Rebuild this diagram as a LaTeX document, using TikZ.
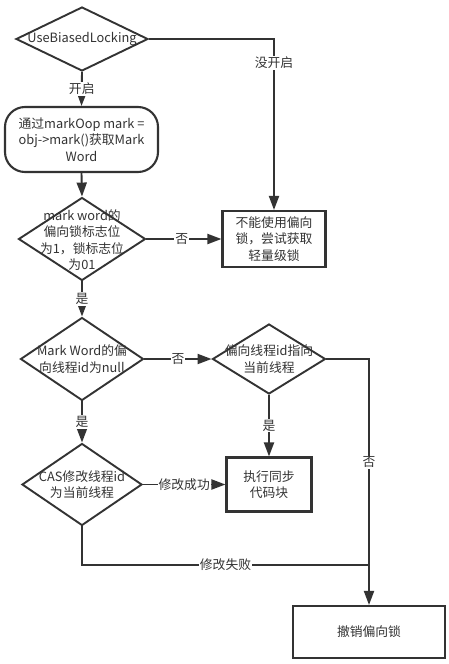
\documentclass[tikz,border=0pt]{standalone}
\usepackage{fontspec}
\setmainfont{Noto Sans CJK SC}
\usetikzlibrary{shapes.geometric,arrows.meta}
\definecolor{lc}{HTML}{333333}
\begin{document}
\begin{tikzpicture}[x=1pt,y=-1pt,
  every node/.style={text=lc},
  dia/.style={shape=diamond, draw=lc, line width=1.9pt, inner sep=0pt},
  boxn/.style={rectangle, draw=lc, line width=2.1pt, inner sep=0pt},
  txt/.style={align=center, inner sep=0pt, font=\fontsize{12.8}{16.5}\selectfont},
  lbl/.style={fill=white, inner sep=1pt, font=\fontsize{12.8}{15}\selectfont},
  con/.style={draw=lc, line width=1.9pt},
  arr/.style={con, -{Triangle[length=14pt,width=10pt]}}]
\useasboundingbox[fill=white] (0,0) rectangle (449,664);
% shapes
\node[dia, minimum width=132pt, minimum height=64pt] (d1) at (82,39) {};
\node[txt] (d1t) at (d1) {UseBiasedLocking};
\node[boxn, rounded corners=20pt, minimum width=153pt, minimum height=65pt] (r1) at (81.5,139.5) {};
\node[txt] (r1t) at (r1) {通过markOop mark =\\obj->mark()获取Mark\\Word};
\node[dia, minimum width=127pt, minimum height=83pt] (d2) at (82,239) {};
\node[txt] (d2t) at (82,240) {mark word的\\偏向锁标志位\\为1，锁标志位\\为01};
\node[boxn, minimum width=103pt, minimum height=56pt] (b1) at (274,239) {};
\node[txt] (b1t) at (b1) {不能使用偏向\\锁，尝试获取\\轻量级锁};
\node[dia, minimum width=123pt, minimum height=83pt] (d3) at (82,359) {};
\node[txt] (d3t) at (d3) {Mark Word的偏\\向线程id为null};
\node[dia, minimum width=113pt, minimum height=70pt] (d4) at (269,359) {};
\node[txt] (d4t) at (d4) {偏向线程id指向\\当前线程};
\node[dia, minimum width=120pt, minimum height=82pt] (d5) at (82,484.5) {};
\node[txt] (d5t) at (d5) {CAS修改线程id\\为当前线程};
\node[boxn, minimum width=85pt, minimum height=54pt] (b2) at (269,484.5) {};
\node[txt] (b2t) at (b2) {执行同步\\代码块};
\node[boxn, minimum width=152pt, minimum height=52pt] (b3) at (369,632) {};
\node[txt] (b3t) at (b3) {撤销偏向锁};
% helper coordinates
\coordinate (c1) at (b1.north |- d1.east);
\coordinate (c2) at (b3.north |- d4.east);
\coordinate (c3) at (82,565);
\coordinate (c4) at (b3.north |- c3);
% connectors
\draw[arr] (d1.east) -- (c1) -- node[lbl, pos=0.14] (l1) {没开启} (b1.north);
\draw[arr] (d1.south) -- node[lbl] (l2) {开启} (r1.north);
\draw[arr] (r1.south) -- (d2.north);
\draw[arr] (d2.east) -- node[lbl, pos=0.47] (l3) {否} (b1.west);
\draw[arr] (d2.south) -- node[lbl] (l4) {是} (d3.north);
\draw[arr] (d3.east) -- node[lbl, pos=0.5] (l5) {否} (d4.west);
\draw[arr] (d4.east) -- (c2) -- node[lbl, pos=0.42] (l6) {否} (b3.north);
\draw[arr] (d4.south) -- node[lbl] (l7) {是} (b2.north);
\draw[arr] (d5.east) -- node[lbl, pos=0.5] (l8) {修改成功} (b2.west);
\draw[arr] (d3.south) -- node[lbl] (l9) {是} (d5.north);
\draw[con] (d5.south) -- (c3) -- node[lbl, pos=0.5] (l10) {修改失败} (c4);
\end{tikzpicture}
\end{document}
